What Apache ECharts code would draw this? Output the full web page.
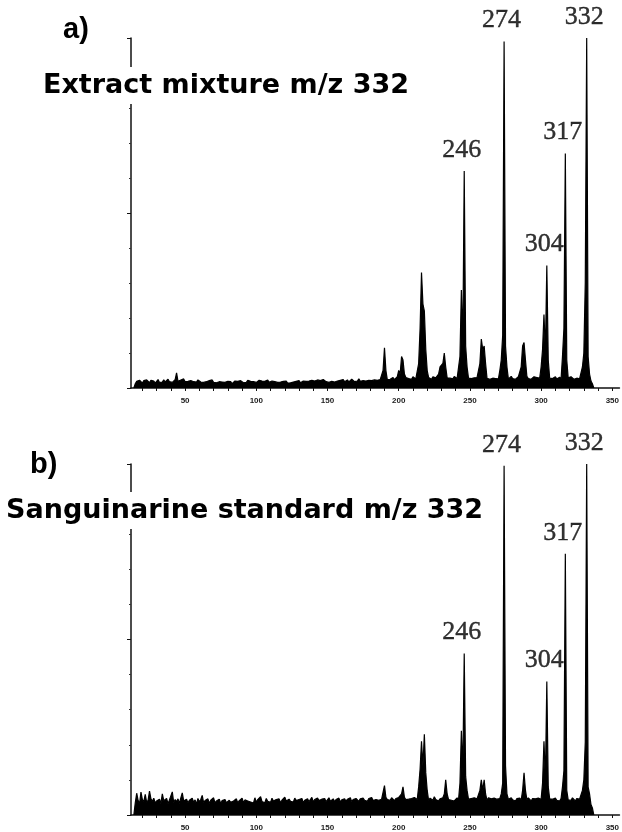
<!DOCTYPE html>
<html>
<head>
<meta charset="utf-8">
<script src="https://cdn.jsdelivr.net/npm/echarts@6/dist/echarts.min.js"></script>
<style>
  html, body { margin: 0; padding: 0; background: #fff; }
  #spectra { width: 622px; height: 832px; }
</style>
</head>
<body>
<div id="spectra"></div>
<script>
// m/z tick marks and labels
const xTickValues = [20, 30, 40, 50, 60, 70, 80, 90, 100, 110, 120, 130, 140, 150, 160, 170, 180, 190, 200, 210, 220, 230, 240, 250, 260, 270, 280, 290, 300, 310, 320, 330, 340, 350];
const xLabelValues = [50, 100, 150, 200, 250, 300, 350];

// baseline noise, one value per m/z starting at noiseStart (relative intensity %)
const noiseStart = 15;
const noiseA = [
  1.2,1.9,1.6,2.2,1.8,1.4,2.1,1.7,2.3,1.8,1.5,2.2,1.7,2.0,1.4,1.9,2.4,1.6,2.1,1.7,
  2.3,1.7,2.0,2.5,1.8,2.2,1.6,2.1,2.4,4.3,1.9,1.7,2.3,2.0,2.6,1.8,2.2,1.9,1.6,2.1,
  2.4,1.8,2.1,1.7,2.3,1.9,1.7,2.2,1.6,2.0,1.8,1.5,2.1,1.7,2.3,1.6,1.9,1.5,2.0,1.8,
  1.4,1.7,1.3,1.6,1.4,1.9,1.5,1.8,1.2,1.7,2.0,1.6,1.9,1.4,2.1,1.7,1.5,1.9,1.6,2.2,
  1.7,1.9,1.4,1.8,2.1,1.6,1.9,2.2,1.7,2.0,1.5,1.9,1.8,2.3,1.6,1.9,2.0,1.5,1.8,2.1,
  1.6,1.9,1.7,1.4,1.9,1.6,2.0,1.4,1.8,1.5,1.9,1.7,1.3,1.9,1.6,2.1,1.5,1.8,2.0,1.6,
  1.9,1.5,2.0,1.7,2.2,1.8,2.0,1.6,2.3,1.9,2.1,1.7,2.4,2.0,1.8,2.2,1.6,2.0,1.9,2.3,
  1.7,2.1,2.0,1.6,2.2,1.9,2.4,1.8,2.0,2.3,1.7,2.1,2.5,2.0,1.8,2.2,2.0,2.6,1.9,2.3,
  2.1,2.5,2.0,2.4,2.2,2.7,2.1,2.5,2.3,2.8,2.2,2.6,2.4,2.9,2.5,2.9,2.7,2.3,2.8,2.5,
  2.7,3.0,2.4,2.9,3.2,2.6,3.0,2.5,3.1,2.8,3.0,3.3,2.7,2.9,2.5,3.2,2.8,2.6,3.0,3.3,
  2.8,3.1,2.5,2.9,3.3,2.7,3.0,2.8,2.5,3.2,2.8,2.9,2.6,3.1,2.8,3.3,2.7,3.0,2.5,2.9,
  3.2,2.8,3.0,2.6,3.3,2.8,2.7,3.1,2.9,2.5,3.2,2.8,3.0,2.6,2.8,3.3,2.7,3.1,2.9,2.5,
  3.0,2.8,3.3,2.7,2.9,3.2,2.6,2.8,3.1,2.5,3.0,2.8,3.3,2.7,2.9,2.6,3.2,2.8,2.5,3.0,
  2.8,3.1,2.6,2.9,3.3,2.7,3.0,2.5,2.8,3.2,2.8,2.9,2.6,3.1,2.8,3.3,2.7,3.0,2.5,2.9,
  3.2,2.8,3.0,2.6,2.8,3.3,2.7,3.1,2.9,2.5,3.0,2.8,3.3,2.7,2.9,3.2,2.6,2.8,3.1,2.5,
  3.0,2.8,3.3,2.7,2.9,2.6,3.2,2.8,2.5,3.0,2.8,3.1,2.6,2.9,3.3,2.7,3.0,2.5,2.8,3.2,
  2.0,1.2
];
const noiseB = [
  3.5,6.2,4.1,3.2,6.5,4.4,3.8,5.9,3.6,4.2,6.8,4.6,3.9,4.8,3.4,4.0,3.7,4.5,3.3,6.0,
  4.1,3.6,4.7,3.2,4.3,3.9,6.6,3.5,4.4,3.8,4.6,3.3,4.9,6.3,4.0,3.7,4.5,3.4,4.2,3.9,
  4.8,3.6,4.3,3.1,4.7,3.8,4.4,5.6,3.5,4.1,3.9,4.6,3.3,4.2,3.7,4.9,3.4,4.0,3.6,4.5,
  3.2,4.1,3.8,4.4,3.5,3.0,4.2,3.6,3.3,4.0,3.7,4.6,3.4,4.1,3.9,4.8,3.5,4.3,3.8,4.0,
  4.5,3.7,4.2,3.4,4.9,3.6,4.4,3.9,5.2,3.8,4.1,3.5,4.7,3.9,4.3,3.6,4.8,4.0,3.7,4.4,
  3.9,4.6,3.5,4.2,3.8,5.1,4.0,3.6,4.5,3.9,4.3,3.7,4.8,4.1,3.6,4.4,3.9,4.7,3.5,4.2,
  4.0,4.6,3.8,4.3,5.0,3.7,4.4,3.9,4.8,4.1,3.6,4.5,4.0,4.7,3.8,4.3,4.9,3.9,4.2,4.6,
  3.8,4.4,4.0,4.8,3.7,4.3,4.1,4.6,3.9,4.5,4.2,4.9,3.8,4.4,4.0,4.7,4.3,3.9,4.6,4.1,
  4.8,4.2,4.5,3.9,4.7,4.3,5.0,4.1,4.6,4.4,4.9,4.2,4.7,4.5,5.1,4.3,4.8,4.4,4.6,4.2,
  4.9,4.5,4.1,4.7,4.3,5.0,4.6,4.2,5.4,4.8,4.4,4.9,4.5,4.1,4.7,4.3,5.0,4.6,4.4,4.8,
  4.2,4.7,4.4,4.9,4.3,4.6,4.1,4.8,4.5,4.2,5.2,4.4,4.7,4.0,4.6,4.3,4.9,4.5,4.1,4.7,
  4.4,4.8,4.2,4.6,4.0,4.5,4.9,4.3,4.7,4.1,4.6,4.4,4.8,4.2,4.5,4.0,4.7,4.3,4.9,4.4,
  4.6,4.1,4.8,4.3,4.5,4.0,4.7,4.2,4.9,4.4,4.6,4.1,4.8,4.3,4.5,4.2,4.7,4.0,4.6,4.4,
  4.8,4.2,4.5,4.1,4.9,4.3,4.6,4.0,4.7,4.4,4.8,4.2,4.5,4.1,4.6,4.3,4.9,4.4,4.0,4.7,
  4.3,4.6,4.1,4.8,4.4,4.5,4.0,4.7,4.2,4.9,4.3,4.6,4.1,4.5,4.4,4.8,4.2,4.6,4.0,4.7,
  4.4,4.5,4.1,4.8,4.3,4.6,4.2,4.9,4.4,4.0,4.7,4.3,4.5,4.1,4.8,4.4,4.6,4.2,4.5,4.3,
  3.0,2.0
];

// a) extract mixture: fragment clusters (m/z, relative intensity %)
const peakMzA = [189,190,191, 200,201,202,203,204, 214,215,216,217,218,219,220, 228,229,230,231,232,233,
  243,244,245,246,247,248, 257,258,259,260,261, 271,272,273,274,275,276, 286,287,288,289,
  300,301,302,303,304,305, 315,316,317,318, 329,330,331,332,333,334];
const peakIntA = [5,11.5,5, 5,4,9,8,4, 7,17,33,24,22,11,5, 4,6,6,7,10,6,
  9,28,12,62,12,6, 7,14,11,12,7, 5,8,15,99,12,6, 6,12,13,8,
  6,11,21,10,35,8, 9,17,67,8, 6,10,30,100,9,4];

// b) sanguinarine standard
const peakMzB = [189,190,191, 201,202,203,204, 214,215,216,217,218,219,220, 232,233,234,
  243,244,245,246,247,248, 257,258,259,260,261, 272,273,274,275,276, 287,288,289,
  301,302,303,304,305, 315,316,317,318, 329,330,331,332,333,334];
const peakIntB = [4,8.4,5, 5,6,8,5, 8,13,21,14,23,12,7, 6,10,6,
  9,24,12,46,11,7, 7,10,7,10,6, 6,9,99.5,14,6, 7,12,7,
  9,21,10,38,8, 8,12.6,74.4,7, 7,10,20.7,100,8,6];

const labelledMz = [246, 274, 304, 317, 332];

function buildProfile(noise, peakMz, peakInt) {
  const byMz = {};
  noise.forEach((v, i) => { byMz[noiseStart + i] = v; });
  peakMz.forEach((mz, i) => { byMz[mz] = peakInt[i]; });
  const keys = Object.keys(byMz).map(Number).sort((a, b) => a - b);
  const data = [[keys[0] - 1, 0]];
  keys.forEach((k) => data.push([k, byMz[k]]));
  data.push([keys[keys.length - 1] + 1, 0]);
  return data;
}

function labelPoints(peakMz, peakInt) {
  return labelledMz.map((mz) => [mz, peakInt[peakMz.indexOf(mz)]]);
}

const chart = echarts.init(document.getElementById("spectra"));

const xAxisBase = {
  type: "value",
  min: 12,
  max: 355,
  axisLine: { lineStyle: { color: "#111", width: 1.5 } },
  axisTick: { customValues: xTickValues, length: 3, lineStyle: { color: "#111" } },
  axisLabel: {
    customValues: xLabelValues,
    fontSize: 8,
    fontWeight: "bold",
    color: "#222",
    fontFamily: "Liberation Sans",
    margin: 9,
  },
  splitLine: { show: false },
};
const yAxisBase = {
  type: "value",
  min: 0,
  max: 100,
  interval: 50,
  axisLine: { show: true, lineStyle: { color: "#111", width: 1.5 } },
  axisTick: { show: true, length: 4, lineStyle: { color: "#111" } },
  minorTick: { show: true, splitNumber: 5, length: 2, lineStyle: { color: "#333" } },
  axisLabel: { show: false },
  splitLine: { show: false },
};

const spectrumStyle = {
  type: "line",
  showSymbol: false,
  symbol: "none",
  sampling: "none",
  animation: false,
  lineStyle: { color: "#000", width: 1.2 },
  areaStyle: { color: "#000", opacity: 1 },
};
const peakLabelStyle = {
  type: "scatter",
  symbolSize: 0,
  animation: false,
  label: {
    show: true,
    position: "top",
    distance: 8,
    offset: [-2.5, 0],
    formatter: (p) => String(p.value[0]),
    fontFamily: "Liberation Serif",
    fontSize: 26,
    color: "#000",
    textBorderColor: "#000",
    textBorderWidth: 0.4,
  },
};

const titleText = { fontFamily: "DejaVu Sans", fontWeight: "bold", fontSize: 27, color: "#000" };
const panelText = { fontFamily: "Liberation Sans", fontWeight: "bold", fontSize: 29, color: "#000" };

chart.setOption({
  backgroundColor: "#fff",
  animation: false,
  title: [
    { text: "a)", left: 63, top: 15, padding: 0, textStyle: panelText },
    { text: "Extract mixture m/z 332", left: 39, top: 67, padding: [5, 4], backgroundColor: "#fff", textStyle: titleText },
    { text: "b)", left: 30, top: 450, padding: 0, textStyle: panelText },
    { text: "Sanguinarine standard m/z 332", left: 2, top: 492, padding: [5, 4], backgroundColor: "#fff", textStyle: titleText },
  ],
  grid: [
    { left: 131, top: 38, width: 489, height: 350 },
    { left: 131, top: 464, width: 489, height: 351 },
  ],
  xAxis: [
    Object.assign({ gridIndex: 0 }, xAxisBase),
    Object.assign({ gridIndex: 1 }, xAxisBase),
  ],
  yAxis: [
    Object.assign({ gridIndex: 0 }, yAxisBase),
    Object.assign({ gridIndex: 1 }, yAxisBase),
  ],
  series: [
    Object.assign({ xAxisIndex: 0, yAxisIndex: 0, data: buildProfile(noiseA, peakMzA, peakIntA) }, spectrumStyle),
    Object.assign({ xAxisIndex: 1, yAxisIndex: 1, data: buildProfile(noiseB, peakMzB, peakIntB) }, spectrumStyle),
    Object.assign({ xAxisIndex: 0, yAxisIndex: 0, data: labelPoints(peakMzA, peakIntA) }, peakLabelStyle),
    Object.assign({ xAxisIndex: 1, yAxisIndex: 1, data: labelPoints(peakMzB, peakIntB) }, peakLabelStyle),
  ],
});
</script>
</body>
</html>
